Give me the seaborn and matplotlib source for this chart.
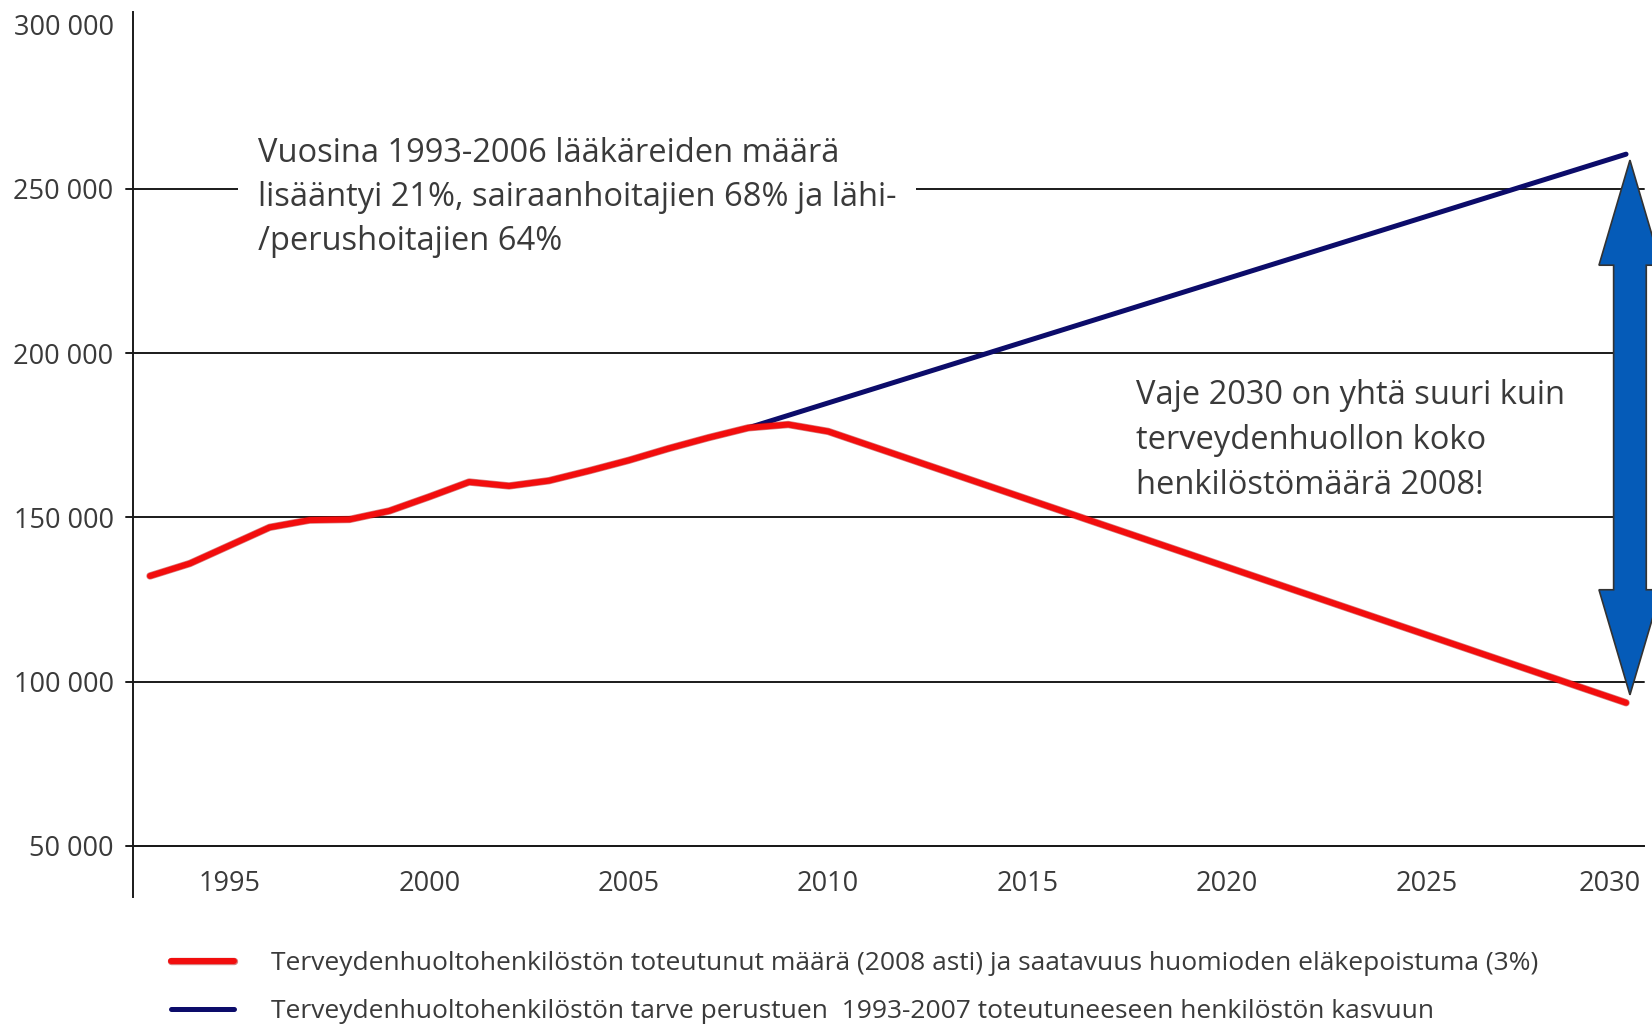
import matplotlib
matplotlib.use("Agg")
import matplotlib.pyplot as plt
import matplotlib.patheffects as pe
from matplotlib.patches import Polygon
from matplotlib.ticker import FuncFormatter
from matplotlib.transforms import blended_transform_factory, ScaledTranslation
import pandas as pd
import seaborn as sns

# actual staff up to 2008, then projected with 3% retirement outflow
actual_years = [1993, 1994, 1995, 1996, 1997, 1998, 1999, 2000, 2001, 2002,
                2003, 2004, 2005, 2006, 2007, 2008, 2009, 2010, 2030]
actual_staff = [132200, 136000, 141500, 147000, 149200, 149400, 152000, 156300, 160800, 159600,
                161200, 164200, 167400, 171000, 174300, 177300, 178300, 176200, 93600]

# need based on 1993-2007 growth
need_years = [2008, 2030]
need_staff = [177300, 260600]

# the gap arrow in 2030
arrow_top = 258800
arrow_bottom = 96000

y_ticks = [50000, 100000, 150000, 200000, 250000, 300000]
grid_values = [50000, 100000, 150000, 200000, 250000]
x_ticks = [1995, 2000, 2005, 2010, 2015, 2020, 2025, 2030]

label_actual = "Terveydenhuoltohenkilöstön toteutunut määrä (2008 asti) ja saatavuus huomioden eläkepoistuma (3%)"
label_need = "Terveydenhuoltohenkilöstön tarve perustuen  1993-2007 toteutuneeseen henkilöstön kasvuun"

note_top = "Vuosina 1993-2006 lääkäreiden määrä\nlisääntyi 21%, sairaanhoitajien 68% ja lähi-\n/perushoitajien 64%"
note_gap = "Vaje 2030 on yhtä suuri kuin\nterveydenhuollon koko\nhenkilöstömäärä 2008!"

red = "#f20d0d"
navy = "#0c0c6a"
text_col = "#3a3a3a"

sns.set_theme(style="white")
plt.rcParams["font.family"] = ["Open Sans", "DejaVu Sans"]

df = pd.concat([
    pd.DataFrame({"year": need_years, "staff": need_staff, "series": "need"}),
    pd.DataFrame({"year": actual_years, "staff": actual_staff, "series": "actual"}),
])

fig = plt.figure(figsize=(16.52, 10.24), dpi=100)
ax = fig.add_axes([133 / 1652, 127 / 1024, 1511 / 1652, 885 / 1024])

sns.lineplot(data=df, x="year", y="staff", hue="series", hue_order=["need", "actual"],
             palette={"need": navy, "actual": red}, sort=False, estimator=None,
             linewidth=4.3, solid_capstyle="round", legend=False, ax=ax, zorder=3)
lines = ax.get_lines()
lines[0].set_linewidth(3.6)
lines[1].set_path_effects([pe.Stroke(linewidth=5.3, foreground="#b00000", alpha=0.5), pe.Normal()])

ax.set_xlim(1992.574, 2030.45)
ax.set_ylim(34470, 303880)

for v in grid_values:
    ax.axhline(v, xmin=-7 / 1511, xmax=1, color="#1a1a1a", lw=1.4, clip_on=False, zorder=1)

for s in ["top", "right"]:
    ax.spines[s].set_visible(False)
ax.spines["left"].set_color("#1a1a1a")
ax.spines["left"].set_linewidth(1.4)
ax.spines["bottom"].set_position(("data", 50000))
ax.spines["bottom"].set_color("#1a1a1a")
ax.spines["bottom"].set_linewidth(1.4)

ax.set_xticks(x_ticks)
ax.set_xticklabels([str(x) for x in x_ticks])
ax.set_yticks(y_ticks)
ax.yaxis.set_major_formatter(FuncFormatter(lambda v, p: f"{v:,.0f}".replace(",", " ")))
ax.tick_params(axis="x", length=0, pad=17, labelsize=19.5, labelcolor=text_col)
ax.tick_params(axis="y", length=0, pad=14, labelsize=19.5, labelcolor=text_col)
ax.set_xlabel("")
ax.set_ylabel("")
# keep the last year label inside the figure
last = ax.get_xticklabels()[-1]
last.set_transform(last.get_transform() + ScaledTranslation(-16 / 100, 0, fig.dpi_scale_trans))

ax.text(0.0827, 0.859, note_top, transform=ax.transAxes, ha="left", va="top",
        fontsize=23.5, color=text_col, linespacing=1.44,
        bbox=dict(facecolor="white", edgecolor="none", pad=14), zorder=2)
ax.text(0.664, 0.585, note_gap, transform=ax.transAxes, ha="left", va="top",
        fontsize=23.5, color=text_col, linespacing=1.48, zorder=2)

# double-headed arrow spanning the 2030 gap
trans = blended_transform_factory(ax.transAxes, ax.transData)
cx, sw, hw, hl = 0.9907, 0.0108, 0.0205, 32000
pts = [(cx, arrow_top), (cx + hw, arrow_top - hl), (cx + sw, arrow_top - hl),
       (cx + sw, arrow_bottom + hl), (cx + hw, arrow_bottom + hl), (cx, arrow_bottom),
       (cx - hw, arrow_bottom + hl), (cx - sw, arrow_bottom + hl),
       (cx - sw, arrow_top - hl), (cx - hw, arrow_top - hl)]
ax.add_patch(Polygon(pts, closed=True, transform=trans, facecolor="#055bb8",
                     edgecolor="#333333", lw=1.2, clip_on=False, zorder=4))

handles = [lines[1], lines[0]]
fig.legend(handles, [label_actual, label_need], loc="upper left",
           bbox_to_anchor=(171 / 1652, 0.071), frameon=False, fontsize=19,
           handlelength=2.4, handletextpad=1.4, labelspacing=0.86, borderpad=0,
           borderaxespad=0, labelcolor=text_col)

fig.savefig("out.png", dpi=100)
